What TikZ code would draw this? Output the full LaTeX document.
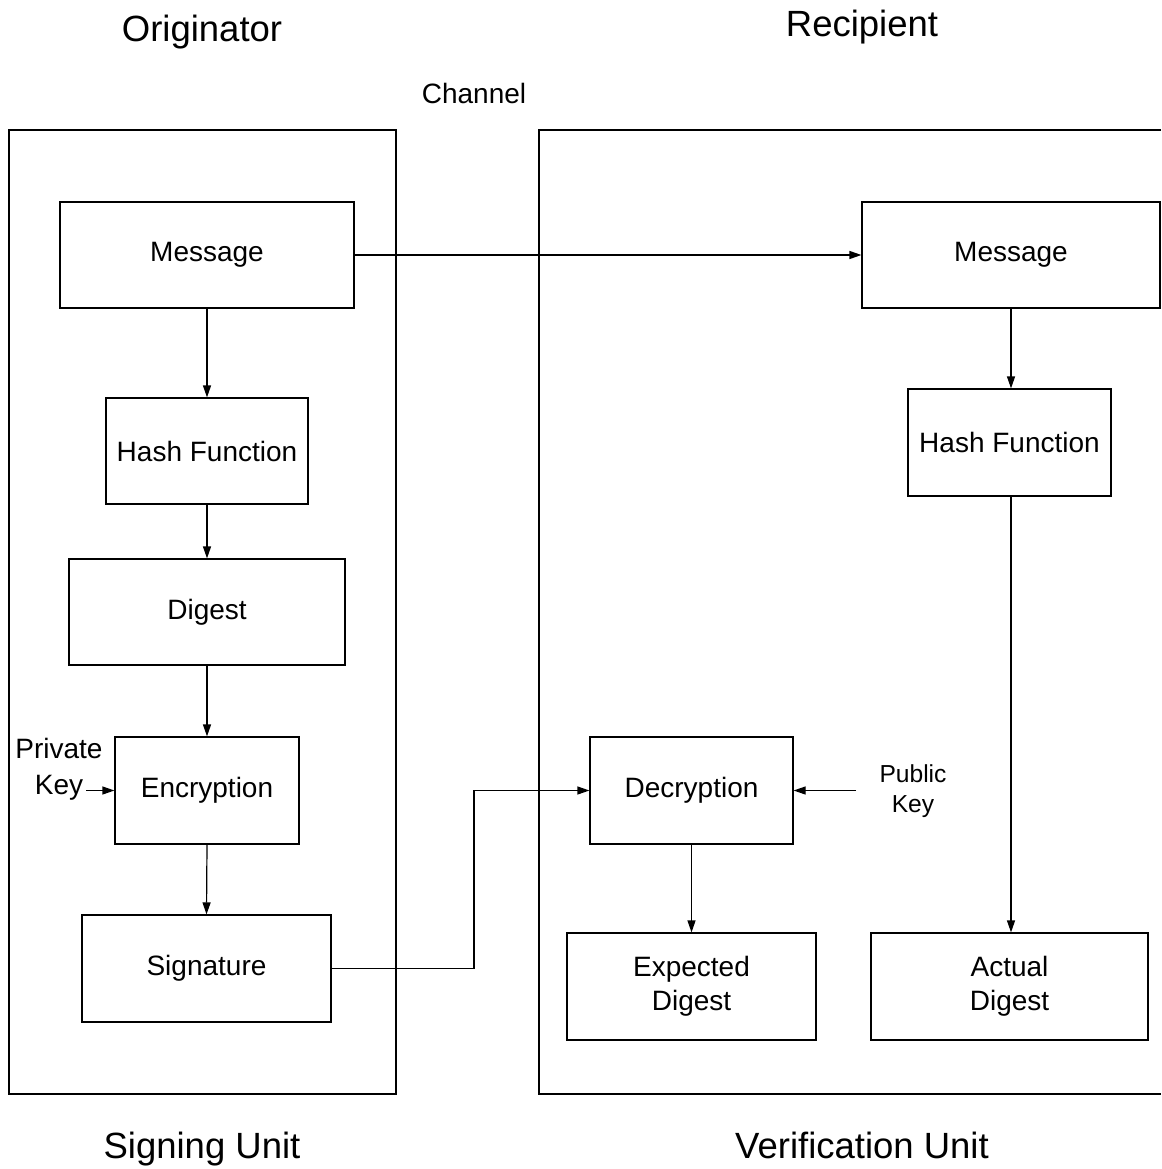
\documentclass[tikz,border=0pt]{standalone}
\usepackage{fontspec}
\setmainfont{Liberation Sans}
\usetikzlibrary{arrows.meta}
\begin{document}
\begin{tikzpicture}[x=1pt,y=-1pt,
  box/.style={draw=black,line width=1.2pt,inner sep=0pt,align=center,font=\fontsize{28}{34}\selectfont},
  title/.style={inner sep=0pt,anchor=base,font=\fontsize{36.5}{42}\selectfont},
  lbl/.style={inner sep=0pt,align=center},
  conn/.style={line width=1.2pt,-{Triangle[length=12pt,width=8pt]}},
  unit/.style={draw=black,line width=1.2pt}]
\useasboundingbox (0,0) rectangle (1161,1169);
% units
\draw[unit] (9,130) rectangle (396,1094);
\draw[unit] (1161,130) -- (539,130) -- (539,1094) -- (1161,1094);
% titles
\node[title] (orig) at (202,42) {Originator};
\node[title] (recip) at (862,37) {Recipient};
\node[lbl,anchor=base,font=\fontsize{28}{34}\selectfont] (chan) at (474,104) {Channel};
\node[title] (sign) at (202,1158) {Signing Unit};
\node[title] (verif) at (862,1158) {Verification Unit};
% left boxes
\node[box,minimum width=294pt,minimum height=106pt] (msgL) at (207,255) {Message};
\node[box,minimum width=202pt,minimum height=106pt] (hashL) at (207,451) {Hash Function};
\node[box,minimum width=276pt,minimum height=106pt] (dig) at (207,612) {Digest};
\node[box,minimum width=184pt,minimum height=107pt] (enc) at (207,790.5) {Encryption};
\node[box,minimum width=249pt,minimum height=107pt] (sig) at (206.5,968.5) {Signature};
% right boxes
\node[box,minimum width=298pt,minimum height=106pt] (msgR) at (1011,255) {Message};
\node[box,minimum width=203pt,minimum height=107pt] (hashR) at (1009.5,442.5) {Hash Function};
\node[box,minimum width=203pt,minimum height=107pt] (dec) at (691.5,790.5) {Decryption};
\node[box,minimum width=249pt,minimum height=107pt] (exp) at (691.5,986.5) {Expected\\Digest};
\node[box,minimum width=277pt,minimum height=107pt] (act) at (1009.5,986.5) {Actual\\Digest};
% keys
\node[lbl,font=\fontsize{28}{36}\selectfont] (priv) at (59,769) {Private\\Key};
\node[lbl,font=\fontsize{24.6}{30}\selectfont] (pub) at (913,791) {Public\\Key};
\coordinate (privs) at (86,790.5);
\coordinate (pubs) at (856,790.5);
\coordinate (bend) at (474,968.5);
% connectors
\draw[conn] (msgL.east) -- (msgR.west);
\draw[conn] (msgL.south) -- (hashL.north);
\draw[conn] (hashL.south) -- (dig.north);
\draw[conn] (dig.south) -- (enc.north);
\draw[conn] (enc.south) -- (sig.north);
\draw[conn] (privs) -- (enc.west);
\draw[conn] (msgR.south) -- (msgR.south |- hashR.north);
\draw[conn] (msgR.south |- hashR.south) -- (msgR.south |- act.north);
\draw[conn] (pubs) -- (dec.east);
\draw[conn] (dec.south) -- (exp.north);
\draw[conn] (sig.east) -- (bend) |- (dec.west);
\end{tikzpicture}
\end{document}
